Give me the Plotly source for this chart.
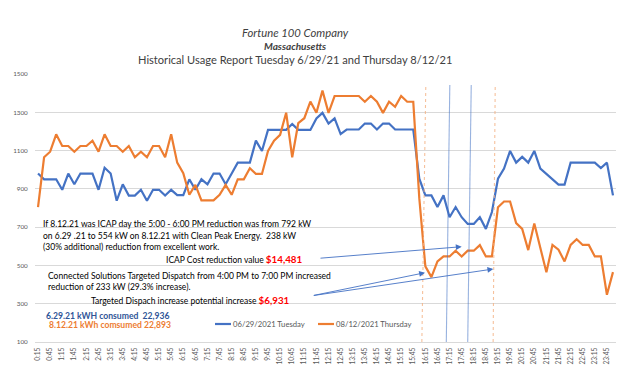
import plotly.graph_objects as go

times = ["0:15","0:30","0:45","1:00","1:15","1:30","1:45","2:00","2:15","2:30","2:45","3:00",
         "3:15","3:30","3:45","4:00","4:15","4:30","4:45","5:00","5:15","5:30","5:45","6:00",
         "6:15","6:30","6:45","7:00","7:15","7:30","7:45","8:00","8:15","8:30","8:45","9:00",
         "9:15","9:30","9:45","10:00","10:15","10:30","10:45","11:00","11:15","11:30","11:45","12:00",
         "12:15","12:30","12:45","13:00","13:15","13:30","13:45","14:00","14:15","14:30","14:45","15:00",
         "15:15","15:30","15:45","16:00","16:15","16:30","16:45","17:00","17:15","17:30","17:45","18:00",
         "18:15","18:30","18:45","19:00","19:15","19:30","19:45","20:00","20:15","20:30","20:45","21:00",
         "21:15","21:30","21:45","22:00","22:15","22:30","22:45","23:00","23:15","23:30","23:45","0:00"]

tuesday_kw = [980, 950, 950, 950, 895, 980, 924, 980, 980, 980, 895, 1010,
              980, 838, 924, 865, 865, 895, 838, 895, 895, 865, 895, 867,
              867, 950, 895, 950, 924, 980, 980, 924, 980, 1037, 1037, 1037,
              1152, 1098, 1208, 1208, 1208, 1208, 1239, 1208, 1208, 1208, 1268, 1297,
              1241, 1268, 1186, 1210, 1210, 1210, 1241, 1241, 1210, 1241, 1241, 1210,
              1210, 1210, 1210, 953, 866, 866, 805, 866, 752, 805, 752, 717,
              717, 752, 691, 779, 953, 1006, 1098, 1037, 1067, 1037, 1098, 1006,
              979, 950, 922, 922, 1037, 1037, 1037, 1037, 1037, 1009, 1037, 866]

thursday_kw = [805, 1065, 1094, 1185, 1124, 1124, 1094, 1124, 1124, 1152, 1094, 1185,
               1124, 1124, 1094, 1124, 1065, 1094, 1065, 1124, 1124, 1065, 1185, 1037,
               982, 869, 921, 840, 840, 840, 869, 921, 869, 950, 950, 1008,
               978, 978, 1098, 1152, 1182, 1298, 1065, 1243, 1269, 1356, 1298, 1413,
               1297, 1385, 1385, 1385, 1385, 1385, 1355, 1385, 1355, 1297, 1355, 1329,
               1385, 1355, 1355, 850, 495, 439, 521, 547, 547, 577, 547, 577,
               577, 606, 547, 547, 804, 834, 834, 721, 691, 580, 719, 590,
               464, 607, 582, 521, 607, 637, 607, 607, 547, 547, 347, 465]

series_names = ["06/29/2021 Tuesday", "08/12/2021 Thursday"]
y_ticks = [100, 300, 500, 700, 900, 1100, 1300, 1500]
x_tick_labels = times[::2]

BLUE = "#4472C4"
ORANGE = "#ED7D31"
FONT = "Lato"

# layout geometry (pixels)
ML, MR, MT, MB = 35, 8, 74, 37
W = 624 - ML - MR
H = 379 - MT - MB


def px(x):
    return (x - ML) / W


def py(y):
    return (379 - MB - y) / H


fig = go.Figure()
fig.add_trace(go.Scatter(x=times, y=tuesday_kw, mode="lines", name=series_names[0],
                         line=dict(color=BLUE, width=2.2)))
fig.add_trace(go.Scatter(x=times, y=thursday_kw, mode="lines", name=series_names[1],
                         line=dict(color=ORANGE, width=2.2)))

shapes = []
# vertical marker lines (category index positions)
for (xb, xt, yt, col, dash) in [(63.42, 64.07, 1432, "rgba(244,177,131,0.8)", "dot"),
                                (67.46, 68.04, 1443, "rgba(68,114,196,0.55)", "solid"),
                                (71.0, 71.58, 1443, "rgba(68,114,196,0.55)", "solid"),
                                (75.2, 75.54, 1432, "rgba(244,177,131,0.8)", "dot")]:
    shapes.append(dict(type="line", xref="x", yref="y", x0=xb, y0=100, x1=xt, y1=yt,
                       line=dict(color=col, width=1.1, dash=dash), layer="above"))
# legend samples
shapes.append(dict(type="line", xref="paper", yref="paper", x0=px(215), x1=px(231),
                   y0=py(324), y1=py(324), line=dict(color=BLUE, width=2.2)))
shapes.append(dict(type="line", xref="paper", yref="paper", x0=px(318), x1=px(334),
                   y0=py(324), y1=py(324), line=dict(color=ORANGE, width=2.2)))

ann = []


def text(x, y, s, size, color="#262626", anchor="left", **kw):
    ann.append(dict(xref="paper", yref="paper", x=px(x), y=py(y), text=s, showarrow=False,
                    xanchor=anchor, yanchor="middle", align=anchor, borderpad=0,
                    font=dict(family=FONT, size=size, color=color), **kw))


# titles
text(295, 32, "<i>Fortune 100 Company</i>", 11.3, "#404040", "center")
text(295, 46, "<b><i>Massachusetts</i></b>", 10, "#404040", "center")
text(295, 60, "Historical Usage Report Tuesday 6/29/21 and Thursday 8/12/21", 11.1, "#404040", "center")

# commentary
TS = 8.5
text(42, 224, "If 8.12.21 was ICAP day the 5:00 - 6:00 PM reduction was from 792 kW", TS, "#000000")
text(42, 235.5, "on 6.29 .21 to 554 kW on 8.12.21 with Clean Peak Energy.  238 kW", TS, "#000000")
text(42, 246.5, "(30% additional) reduction from excellent work.", TS, "#000000")
text(164.5, 258.5, "ICAP Cost reduction value <b><span style='color:#FF0000;font-size:9.8px'>$14,481</span></b>",
     TS, "#000000")
text(47, 275.5, "Connected Solutions Targeted Dispatch from 4:00 PM to 7:00 PM increased", TS, "#000000")
text(47, 286.5, "reduction of 233 kW (29.3% increase).", TS, "#000000")
text(89.5, 299.5, "Targeted Dispach increase potential increase <b><span style='color:#FF0000;font-size:9.8px'>$6,931</span></b>",
     TS, "#000000")
text(45, 316, "<b>6.29.21 kWH consumed  22,936</b>", 8.6, "#2F5597")
text(48, 325, "<b>8.12.21 kWh comsumed 22,893</b>", 8.6, ORANGE)

# legend text
text(232, 324, series_names[0], 7.7, "#595959")
text(335, 324, series_names[1], 7.7, "#595959")

# arrows
for (hx, hy, tx, ty) in [(461.7, 246.7, 319, 258.3),
                         (425, 272.7, 312.3, 295.7),
                         (493.3, 269, 312.3, 295.7)]:
    ann.append(dict(xref="paper", yref="paper", x=px(hx), y=py(hy), ax=tx - hx, ay=ty - hy,
                    text="", showarrow=True, arrowhead=2, arrowsize=1.3, arrowwidth=0.9,
                    arrowcolor=BLUE, standoff=0, startstandoff=0))

fig.update_layout(
    width=624, height=379,
    margin=dict(l=ML, r=MR, t=MT, b=MB, pad=0),
    paper_bgcolor="white", plot_bgcolor="white",
    showlegend=False,
    font=dict(family=FONT, color="#595959"),
    shapes=shapes, annotations=ann,
    xaxis=dict(type="category", categoryorder="array", categoryarray=times,
               tickmode="array", tickvals=x_tick_labels, ticktext=x_tick_labels,
               tickangle=-90, tickfont=dict(size=6.6, color="#595959"),
               showgrid=False, zeroline=False, showline=True, linecolor="#D9D9D9", linewidth=1,
               ticks="outside", ticklen=2, tickcolor="rgba(0,0,0,0)",
               range=[-0.5, len(times) - 0.5], fixedrange=True),
    yaxis=dict(range=[100, 1500], tickmode="array", tickvals=y_ticks,
               ticktext=[str(v) for v in y_ticks],
               tickfont=dict(size=6.3, color="#595959"),
               showgrid=True, gridcolor="#D9D9D9", gridwidth=1, zeroline=False, showline=False,
               ticks="outside", ticklen=5, tickcolor="rgba(0,0,0,0)", fixedrange=True),
)

fig.write_html("out.html", config={"displayModeBar": False},
               post_script="document.body.style.margin='0';document.body.style.padding='0';")
